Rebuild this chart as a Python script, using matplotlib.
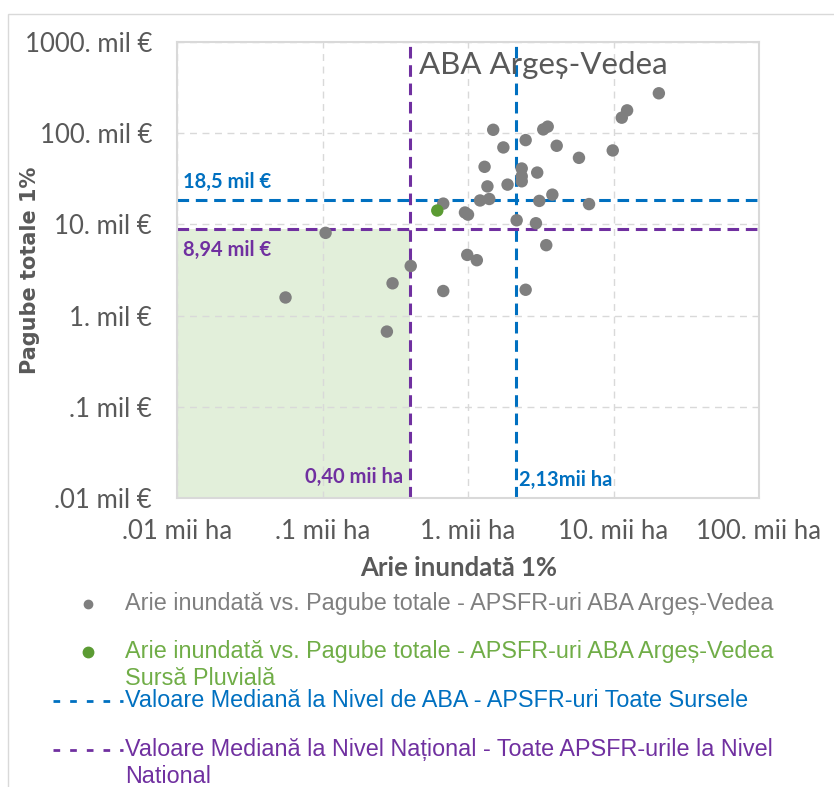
import matplotlib.pyplot as plt
from matplotlib.lines import Line2D
from matplotlib.patches import Rectangle
from matplotlib.ticker import FixedLocator, FixedFormatter, NullLocator

# APSFR-uri ABA Arges-Vedea: arie inundata (mii ha) vs. pagube totale (mil EUR)
arie = [20.5, 12.4, 11.4, 1.49, 3.29, 3.53, 2.49, 1.75, 4.07, 5.79,
        9.88, 1.30, 2.34, 2.34, 2.34, 2.99, 1.36, 1.87, 1.21, 1.40,
        3.80, 3.09, 6.79, 0.676, 0.953, 1.00, 2.16, 2.93, 3.45, 0.988,
        1.15, 0.404, 0.303, 0.676, 2.49, 0.105, 0.0557, 0.277]
pagube = [274, 178, 148, 109, 110, 118, 84, 69.8, 72.8, 53.7,
          64.7, 42.8, 41.0, 33.7, 29.7, 37.0, 26.1, 27.3, 18.3, 19.0,
          21.2, 18.1, 16.7, 16.9, 13.5, 12.8, 11.1, 10.3, 5.92, 4.63,
          4.05, 3.50, 2.26, 1.86, 1.92, 8.08, 1.58, 0.668]

# sursa pluviala
arie_pluvial = [0.615]
pagube_pluvial = [14.2]

median_aba_arie = 2.13
median_aba_pagube = 18.5
median_nat_arie = 0.40
median_nat_pagube = 8.94

x_ticks = [0.01, 0.1, 1, 10, 100]
x_labels = [".01 mii ha", ".1 mii ha", "1. mii ha", "10. mii ha", "100. mii ha"]
y_ticks = [0.01, 0.1, 1, 10, 100, 1000]
y_labels = [".01 mil €", ".1 mil €", "1. mil €", "10. mil €", "100. mil €", "1000. mil €"]

legend_labels = [
    "Arie inundată vs. Pagube totale - APSFR-uri ABA Argeș-Vedea",
    "Arie inundată vs. Pagube totale - APSFR-uri ABA Argeș-Vedea\nSursă Pluvială",
    "Valoare Mediană la Nivel de ABA - APSFR-uri Toate Sursele",
    "Valoare Mediană la Nivel Național - Toate APSFR-urile la Nivel\nNational",
]

GRAY = "#7f7f7f"
GREEN_PT = "#5b9b33"
GREEN_TXT = "#70ad47"
BLUE = "#0070c0"
PURPLE = "#7030a0"
DARK = "#595959"

W, H = 834, 787
fig = plt.figure(figsize=(W / 100, H / 100), dpi=100)


def fx(x):
    return x / W


def fy(y):
    return 1 - y / H


# outer chart frame
fig.add_artist(Rectangle((fx(8), fy(900)), 2, fy(14) - fy(900),
                         transform=fig.transFigure, fill=False,
                         edgecolor="#d9d9d9", lw=1))

ax = fig.add_axes([fx(177), fy(498), (759 - 177) / W, (498 - 42) / H])
ax.set_xscale("log")
ax.set_yscale("log")
ax.set_xlim(0.01, 100)
ax.set_ylim(0.01, 1000)

ax.add_patch(Rectangle((0.01, 0.01), median_nat_arie - 0.01, median_nat_pagube - 0.01,
                       facecolor="#e2efda", edgecolor="none", zorder=0))

ax.grid(True, color="#d9d9d9", linestyle=(0, (5, 4)), lw=1, zorder=0.5)
ax.set_axisbelow(True)

med_style = dict(lw=2.2, linestyle=(0, (3.8, 2.2)), zorder=2)
ax.axhline(median_aba_pagube, color=BLUE, **med_style)
ax.axvline(median_aba_arie, color=BLUE, **med_style)
ax.axhline(median_nat_pagube, color=PURPLE, **med_style)
ax.axvline(median_nat_arie, color=PURPLE, **med_style)

ax.scatter(arie, pagube, s=80, color=GRAY, edgecolors="none", zorder=3)
ax.scatter(arie_pluvial, pagube_pluvial, s=80, color=GREEN_PT, edgecolors="none", zorder=4)

ax.xaxis.set_major_locator(FixedLocator(x_ticks))
ax.xaxis.set_major_formatter(FixedFormatter(x_labels))
ax.yaxis.set_major_locator(FixedLocator(y_ticks))
ax.yaxis.set_major_formatter(FixedFormatter(y_labels))
ax.xaxis.set_minor_locator(NullLocator())
ax.yaxis.set_minor_locator(NullLocator())
ax.tick_params(axis="both", length=0, labelsize=18.5, labelcolor=DARK)
ax.tick_params(axis="x", pad=15)
ax.tick_params(axis="y", pad=18)
for lab in ax.get_xticklabels() + ax.get_yticklabels():
    lab.set_fontfamily("Lato")

for sp in ax.spines.values():
    sp.set_color("#d9d9d9")
    sp.set_linewidth(1.5)

fig.text(fx(419), fy(65), "ABA Argeș-Vedea", fontsize=22.5, color=DARK,
         family="Lato", va="center", ha="left")

ann = dict(textcoords="offset points", fontsize=14.5, fontweight="bold", family="Lato")
ax.annotate("18,5 mil €", xy=(0, median_aba_pagube), xycoords=("axes fraction", "data"),
            xytext=(4, 6), ha="left", va="bottom", color=BLUE, **ann)
ax.annotate("8,94 mil €", xy=(0, median_nat_pagube), xycoords=("axes fraction", "data"),
            xytext=(4, -8), ha="left", va="top", color=PURPLE, **ann)
ax.annotate("0,40 mii ha", xy=(median_nat_arie, 0), xycoords=("data", "axes fraction"),
            xytext=(-5, 8), ha="right", va="bottom", color=PURPLE, **ann)
ax.annotate("2,13mii ha", xy=(median_aba_arie, 0), xycoords=("data", "axes fraction"),
            xytext=(2, 6), ha="left", va="bottom", color=BLUE, **ann)

fig.text(fx(459), fy(568), "Arie inundată 1%", fontsize=18.5, fontweight="bold",
         color=DARK, family="Lato", ha="center", va="center")
fig.text(fx(30), fy(270), "Pagube totale 1%", fontsize=15, fontweight="bold",
         color=DARK, family="DejaVu Sans", ha="center", va="center", rotation=90)

# legend, drawn by hand in pixel positions
leg_font = ["Liberation Sans", "DejaVu Sans"]
fig.add_artist(Line2D([fx(88)], [fy(604)], marker="o", markersize=6, color=GRAY,
                      transform=fig.transFigure, linestyle="none"))
fig.add_artist(Line2D([fx(88)], [fy(652)], marker="o", markersize=7.5, color=GREEN_PT,
                      transform=fig.transFigure, linestyle="none"))
fig.add_artist(Line2D([fx(53), fx(123)], [fy(701), fy(701)], color=BLUE, lw=2,
                      linestyle=(0, (2.4, 3.6)), transform=fig.transFigure))
fig.add_artist(Line2D([fx(53), fx(123)], [fy(750), fy(750)], color=PURPLE, lw=2,
                      linestyle=(0, (2.4, 3.6)), transform=fig.transFigure))

leg_colors = [GRAY, GREEN_TXT, BLUE, PURPLE]
leg_y = [604, 652, 701, 750]
for lab, col, yy in zip(legend_labels, leg_colors, leg_y):
    fig.text(fx(125), fy(yy - 12), lab, fontsize=16.8, color=col, family=leg_font,
             ha="left", va="top", linespacing=1.2)

fig.savefig("out.png", dpi=100)
